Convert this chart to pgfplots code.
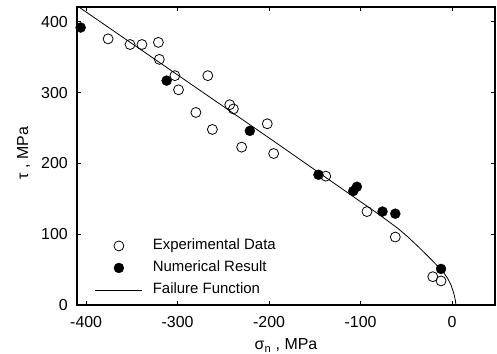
\documentclass[border=0pt]{standalone}
\usepackage{pgfplots}
\pgfplotsset{compat=1.18}
\usepackage{fontspec}
\setmainfont{Liberation Sans}
\pgfplotsset{
  markleg/.style={legend image code/.code={\draw[##1] plot[only marks] coordinates {(0.83cm,0cm)};}},
  lineleg/.style={legend image code/.code={\draw[##1] (0cm,0cm) -- (1.66cm,0cm);}},
}
\begin{document}
\fontsize{16}{18}\selectfont
\begin{tikzpicture}
\begin{axis}[
  at={(0,0)}, anchor=south west,
  width=418bp, height=298bp, scale only axis,
  xmin=-410, xmax=47, ymin=0, ymax=421,
  xtick={-400,-300,-200,-100,0},
  ytick={0,100,200,300,400},
  tick align=inside,
  major tick length=4bp,
  tick style={black, line width=0.8pt},
  axis line style={line width=1.2pt},
  /pgf/number format/assume math mode=true,
  ticklabel style={font=\fontsize{16}{18}\selectfont},
  xticklabel style={anchor=base, yshift=-22bp},
  yticklabel style={anchor=east, inner xsep=0pt, xshift=-9bp},
  xlabel={σ\textsubscript{n} , MPa},
  ylabel={τ , MPa},
  label style={font=\fontsize{16}{18}\selectfont},
  xlabel style={at={(axis description cs:0.5,-0.151)}, anchor=base},
  ylabel style={at={(axis description cs:-0.117,0.51)}, anchor=base, rotate=0},
  legend style={at={(axis description cs:0.043,0.225)}, anchor=north west,
    inner sep=0pt, outer sep=0pt, draw=none, fill=none,
    row sep=6bp,
    nodes={inner xsep=10bp, inner ysep=1bp, text height=11bp, text depth=3bp,
      font=\fontsize{15}{17}\selectfont},
    cells={anchor=west}},
  legend cell align=left,
  clip=true,
]
\addplot[only marks, mark=o, mark size=5pt, mark options={line width=0.8pt, fill=white, draw=black}, markleg]
coordinates {
(-376,376) (-352,368) (-339,368) (-321,371) (-320,347) (-303,324) (-299,304)
(-280,272) (-262,248) (-267,324) (-243,283) (-239,277) (-230,223) (-202,256)
(-195,214) (-138,182) (-93,132) (-62,96) (-21,40) (-12,34) (5,-1)
};
\addlegendentry{Experimental Data}
\addplot[only marks, mark=*, mark size=5pt, mark options={fill=black, draw=black}, markleg]
coordinates {
(-406,392) (-312,317) (-221,246) (-146,184) (-108,161) (-104,167) (-76,132)
(-62,129) (-12,51)
};
\addlegendentry{Numerical Result}
\addplot[black, line width=0.8pt, smooth, tension=0.3, lineleg]
coordinates {
(-408,421) (-300,325) (-200,236) (-150,191) (-100,146) (-80,128) (-60,109)
(-49,97) (-35,80) (-21,62) (-10,47) (-5,38) (-1,28) (2,16) (3.6,7) (4.3,0)
};
\addlegendentry{Failure Function}
\end{axis}
\pgfresetboundingbox
\path (-77bp,-49bp) rectangle (420bp,305bp);
\end{tikzpicture}
\end{document}
